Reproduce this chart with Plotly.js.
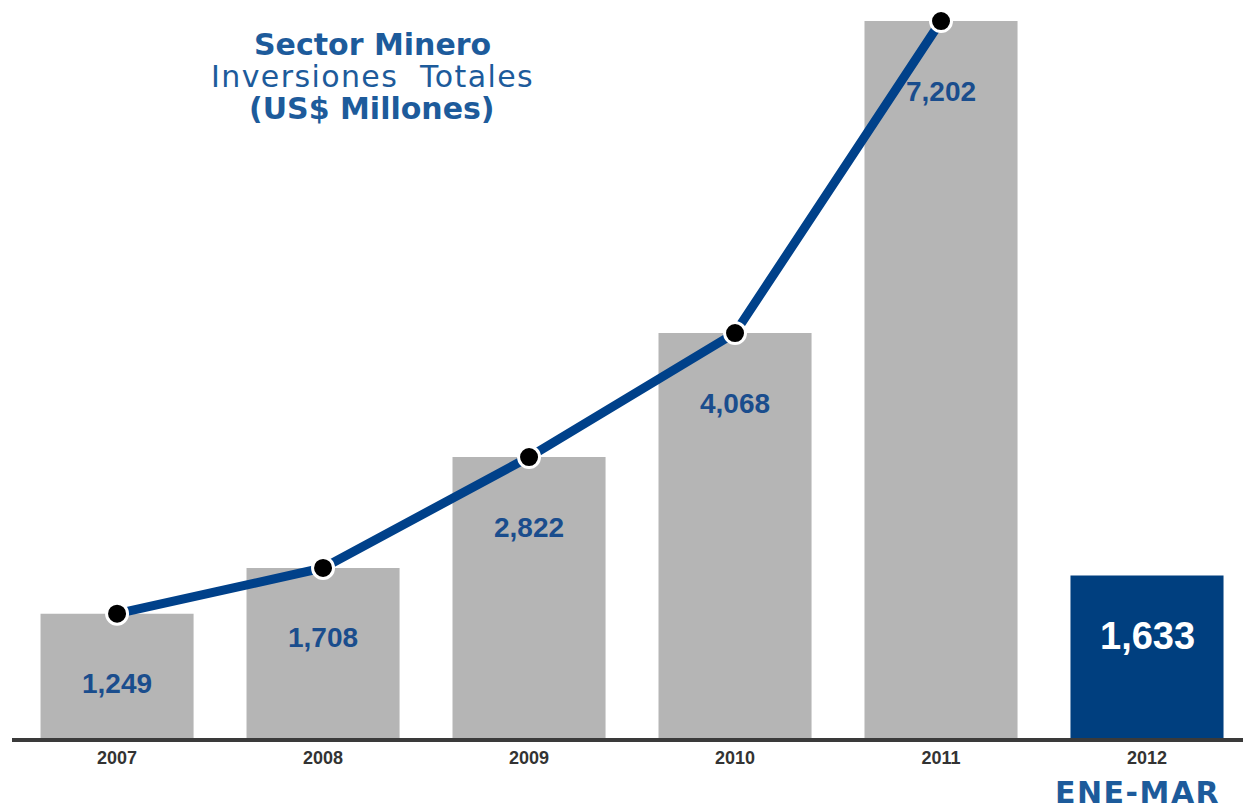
<!DOCTYPE html>
<html>
<head>
<meta charset="utf-8">
<script src="https://cdn.plot.ly/plotly-3.0.1.min.js"></script>
<style>html,body{margin:0;padding:0;background:#fff;}#chart{width:1243px;height:809px;}</style>
</head>
<body>
<div id="chart"></div>
<script>
// Data
const years = ['2007', '2008', '2009', '2010', '2011', '2012'];
const inversiones = [1249, 1708, 2822, 4068, 7202, 1633];
const lineYears = ['2007', '2008', '2009', '2010', '2011'];
const lineValues = [1249, 1708, 2822, 4068, 7202];
const periodoNota = 'ENE-MAR';
const tituloLineas = ['Sector Minero', 'Inversiones  Totales', '(US$ Millones)'];

const gray = '#b5b5b5';
const navy = '#003f7f';
const labelBlue = '#1a4d8d';
const titleBlue = '#1d5b9b';

const barColors = years.map((y, i) => i === years.length - 1 ? navy : gray);

const fmt = v => v.toLocaleString('en-US');

const traces = [
  {
    type: 'bar', x: years, y: inversiones,
    marker: {color: barColors, line: {width: 0}},
    hoverinfo: 'x+y', showlegend: false
  },
  {
    type: 'scatter', mode: 'lines+markers', x: lineYears, y: lineValues,
    line: {color: '#00418a', width: 9},
    marker: {color: '#000000', size: 21, line: {color: '#ffffff', width: 3}},
    showlegend: false, cliponaxis: false
  }
];

const annotations = [];
inversiones.forEach((v, i) => {
  const last = i === inversiones.length - 1;
  annotations.push({
    x: i, y: v, xref: 'x', yref: 'y', xanchor: 'center',
    text: '<b>' + fmt(v) + '</b>', showarrow: false,
    yshift: last ? -61 : -70, yanchor: 'middle',
    font: {family: 'Liberation Sans, Arial, sans-serif', size: last ? 38 : 28, color: last ? '#ffffff' : labelBlue}
  });
});

annotations.push({
  xref: 'paper', yref: 'paper', x: 0.2925, y: 0.952, xanchor: 'center', yanchor: 'middle', showarrow: false,
  text: '<b>' + tituloLineas[0] + '</b>',
  font: {family: 'DejaVu Sans, Verdana, sans-serif', size: 30, color: titleBlue}
});
annotations.push({
  xref: 'paper', yref: 'paper', x: 0.2925, y: 0.908, xanchor: 'center', yanchor: 'middle', showarrow: false,
  text: '<span style="letter-spacing:1.4px">' + tituloLineas[1].replace('  ', '\u00a0 ') + '</span>',
  font: {family: 'DejaVu Sans, Verdana, sans-serif', size: 30, color: titleBlue}
});
annotations.push({
  xref: 'paper', yref: 'paper', x: 0.2925, y: 0.865, xanchor: 'center', yanchor: 'middle', showarrow: false,
  text: '<b>' + tituloLineas[2] + '</b>',
  font: {family: 'DejaVu Sans, Verdana, sans-serif', size: 30, color: titleBlue}
});
annotations.push({
  xref: 'paper', yref: 'paper', x: 0.9147, y: -0.0755, xanchor: 'center', yanchor: 'middle', showarrow: false,
  text: '<b><span style="letter-spacing:1.5px">' + periodoNota + '</span></b>',
  font: {family: 'DejaVu Sans, Verdana, sans-serif', size: 30, color: titleBlue}
});

const layout = {
  width: 1243, height: 809,
  margin: {l: 12, r: 0, t: 10, b: 71},
  paper_bgcolor: '#ffffff', plot_bgcolor: '#ffffff',
  bargap: 0.257,
  xaxis: {
    type: 'category', range: [-0.51, 5.466],
    showline: true, linecolor: '#3a3a3a', linewidth: 4,
    showgrid: false, zeroline: false, ticks: '',
    tickfont: {family: 'Liberation Sans, Arial, sans-serif', size: 18, color: '#333333', weight: 'bold'},
    fixedrange: true
  },
  yaxis: {
    range: [0, 7313], showgrid: false, zeroline: false, showline: false,
    showticklabels: false, ticks: '', fixedrange: true
  },
  annotations: annotations,
  showlegend: false
};

Plotly.newPlot('chart', traces, layout, {displayModeBar: false, staticPlot: true});
</script>
</body>
</html>
